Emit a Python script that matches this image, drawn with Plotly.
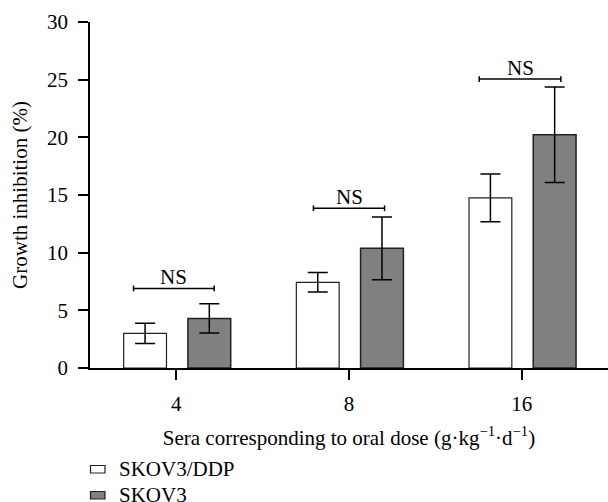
import plotly.graph_objects as go

categories = ["4", "8", "16"]
series_names = ["SKOV3/DDP", "SKOV3"]
ddp_values = [3.0, 7.43, 14.75]
ddp_errors = [0.87, 0.84, 2.08]
skov_values = [4.3, 10.38, 20.22]
skov_errors = [1.27, 2.72, 4.14]
sig_labels = ["NS", "NS", "NS"]
sig_heights = [6.9, 13.85, 25.05]
y_ticks = [0, 5, 10, 15, 20, 25, 30]

FONT = "Liberation Serif, Times New Roman, serif"
FS = 21
W, H = 608, 502
ML, MR, MT, MB = 90, 0, 22, 134
PW, PH = W - ML - MR, H - MT - MB
pos = list(range(len(categories)))
bar_w = 0.248
fills = ["white", "#808080"]
edges = ["#222222", "#222222"]

fig = go.Figure()
fig.add_trace(go.Bar(
    x=pos, y=ddp_values, name=series_names[0], width=bar_w, offset=-0.305,
    marker=dict(color=fills[0], line=dict(color=edges[0], width=1.2)),
    error_y=dict(type="data", array=ddp_errors, visible=True, color="black", thickness=1.5, width=10),
    showlegend=False,
))
fig.add_trace(go.Bar(
    x=pos, y=skov_values, name=series_names[1], width=bar_w, offset=0.067,
    marker=dict(color=fills[1], line=dict(color=edges[1], width=1.5)),
    error_y=dict(type="data", array=skov_errors, visible=True, color="black", thickness=1.5, width=10),
    showlegend=False,
))

left_off = [-0.248, -0.206, -0.246]
right_off = [0.219, 0.206, 0.227]
for i, (lab, h) in enumerate(zip(sig_labels, sig_heights)):
    x0 = pos[i] + left_off[i]
    x1 = pos[i] + right_off[i]
    fig.add_shape(type="line", xref="x", yref="y", x0=x0, x1=x1, y0=h, y1=h,
                  line=dict(color="black", width=1.5))
    for xe in (x0, x1):
        fig.add_shape(type="line", xref="x", yref="y", x0=xe, x1=xe, y0=h - 0.25, y1=h + 0.25,
                      line=dict(color="black", width=1.5))
    fig.add_annotation(x=(x0 + x1) / 2, y=h, xref="x", yref="y", text=lab, showarrow=False,
                       yanchor="bottom", yshift=-3, font=dict(family=FONT, size=FS, color="black"))


def px_x(p):
    return (p - ML) / PW


def px_y(p):
    return (H - MB - p) / PH


# legend (drawn in paper space so it doesn't shift the plot area)
legend_rows = [469, 495]
for name, fill, edge, row in zip(series_names, fills, edges, legend_rows):
    fig.add_shape(type="rect", xref="paper", yref="paper",
                  x0=px_x(90.5), x1=px_x(105), y0=px_y(row - 3.5), y1=px_y(row + 4),
                  fillcolor=fill, line=dict(color=edge, width=1.2))
    fig.add_annotation(xref="paper", yref="paper", x=px_x(117), y=px_y(row), text=name,
                       showarrow=False, xanchor="left", yanchor="middle",
                       font=dict(family=FONT, size=FS, color="black"))

fig.update_layout(
    width=W, height=H,
    margin=dict(l=ML, r=MR, t=MT, b=MB),
    plot_bgcolor="white", paper_bgcolor="white",
    barmode="overlay",
    font=dict(family=FONT, size=FS, color="black"),
    showlegend=False,
    xaxis=dict(range=[-0.5, 2.5], tickmode="array", tickvals=pos, ticktext=categories,
               showline=True, linecolor="black", linewidth=1.5, ticks="outside", ticklen=10,
               tickwidth=1.5, tickcolor="black", showgrid=False, zeroline=False,
               ticklabelstandoff=6,
               title=dict(text="Sera corresponding to oral dose (g·kg<sup>−1</sup>·d<sup>−1</sup>)",
                          font=dict(family=FONT, size=FS), standoff=15)),
    yaxis=dict(range=[0, 30], tickmode="array", tickvals=y_ticks,
               showline=True, linecolor="black", linewidth=1.5, ticks="outside", ticklen=10,
               tickwidth=1.5, tickcolor="black", showgrid=False, zeroline=False,
               ticklabelstandoff=6,
               title=dict(text="Growth inhibition (%)", font=dict(family=FONT, size=FS), standoff=14)),
)

fig.write_html("out.html")
